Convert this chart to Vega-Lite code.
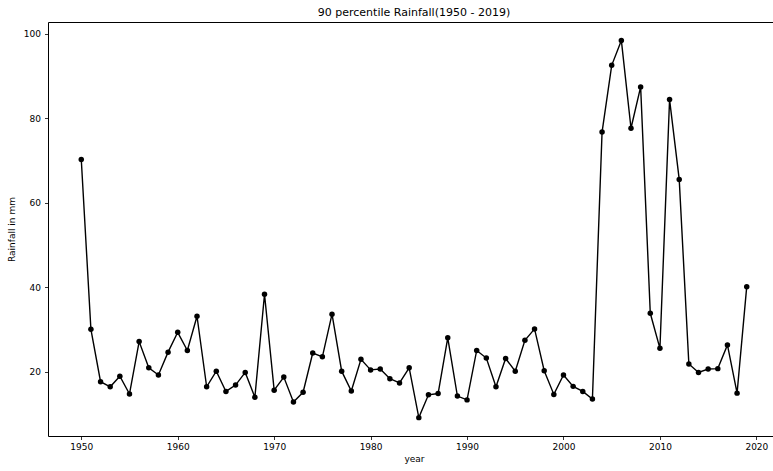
{
  "$schema": "https://vega.github.io/schema/vega-lite/v6.json",
  "width": 732,
  "height": 414,
  "autosize": {"type": "none"},
  "padding": {"left": 48, "top": 22, "right": 0, "bottom": 35},
  "background": "white",
  "config": {
    "font": "DejaVu Sans",
    "view": {"stroke": "black", "strokeWidth": 1},
    "axis": {
      "domain": false,
      "grid": false,
      "tickColor": "black",
      "tickSize": 3.5,
      "tickWidth": 0.8,
      "labelFont": "DejaVu Sans",
      "labelFontSize": 9,
      "labelColor": "black",
      "titleFont": "DejaVu Sans",
      "titleFontSize": 9,
      "titleFontWeight": "normal",
      "titleColor": "black"
    },
    "title": {"font": "DejaVu Sans", "fontSize": 11, "fontWeight": "normal", "color": "black"}
  },
  "title": {"text": "90 percentile Rainfall(1950 - 2019)", "anchor": "middle", "offset": 4},
  "data": {
    "values": [
      {"year": 1950, "rain": 70.2}, {"year": 1951, "rain": 30.0}, {"year": 1952, "rain": 17.6},
      {"year": 1953, "rain": 16.4}, {"year": 1954, "rain": 18.9}, {"year": 1955, "rain": 14.7},
      {"year": 1956, "rain": 27.1}, {"year": 1957, "rain": 20.9}, {"year": 1958, "rain": 19.2},
      {"year": 1959, "rain": 24.6}, {"year": 1960, "rain": 29.3}, {"year": 1961, "rain": 25.0},
      {"year": 1962, "rain": 33.1}, {"year": 1963, "rain": 16.4}, {"year": 1964, "rain": 20.1},
      {"year": 1965, "rain": 15.3}, {"year": 1966, "rain": 16.8}, {"year": 1967, "rain": 19.8},
      {"year": 1968, "rain": 13.9}, {"year": 1969, "rain": 38.3}, {"year": 1970, "rain": 15.6},
      {"year": 1971, "rain": 18.7}, {"year": 1972, "rain": 12.8}, {"year": 1973, "rain": 15.1},
      {"year": 1974, "rain": 24.4}, {"year": 1975, "rain": 23.5}, {"year": 1976, "rain": 33.6},
      {"year": 1977, "rain": 20.1}, {"year": 1978, "rain": 15.4}, {"year": 1979, "rain": 22.9},
      {"year": 1980, "rain": 20.4}, {"year": 1981, "rain": 20.6}, {"year": 1982, "rain": 18.3},
      {"year": 1983, "rain": 17.3}, {"year": 1984, "rain": 20.9}, {"year": 1985, "rain": 9.1},
      {"year": 1986, "rain": 14.5}, {"year": 1987, "rain": 14.8}, {"year": 1988, "rain": 28.0},
      {"year": 1989, "rain": 14.2}, {"year": 1990, "rain": 13.3}, {"year": 1991, "rain": 25.0},
      {"year": 1992, "rain": 23.2}, {"year": 1993, "rain": 16.4}, {"year": 1994, "rain": 23.1},
      {"year": 1995, "rain": 20.1}, {"year": 1996, "rain": 27.4}, {"year": 1997, "rain": 30.1},
      {"year": 1998, "rain": 20.2}, {"year": 1999, "rain": 14.6}, {"year": 2000, "rain": 19.2},
      {"year": 2001, "rain": 16.5}, {"year": 2002, "rain": 15.3}, {"year": 2003, "rain": 13.5},
      {"year": 2004, "rain": 76.7}, {"year": 2005, "rain": 92.5}, {"year": 2006, "rain": 98.4},
      {"year": 2007, "rain": 77.6}, {"year": 2008, "rain": 87.4}, {"year": 2009, "rain": 33.8},
      {"year": 2010, "rain": 25.5}, {"year": 2011, "rain": 84.4}, {"year": 2012, "rain": 65.5},
      {"year": 2013, "rain": 21.8}, {"year": 2014, "rain": 19.8}, {"year": 2015, "rain": 20.6},
      {"year": 2016, "rain": 20.7}, {"year": 2017, "rain": 26.3}, {"year": 2018, "rain": 14.9},
      {"year": 2019, "rain": 40.1}
    ]
  },
  "encoding": {
    "x": {
      "field": "year", "type": "quantitative",
      "scale": {"domain": [1946.55, 2022.45], "nice": false, "zero": false},
      "axis": {"values": [1950, 1960, 1970, 1980, 1990, 2000, 2010, 2020], "format": "d", "title": "year", "labelPadding": 3, "titlePadding": 3}
    },
    "y": {
      "field": "rain", "type": "quantitative",
      "scale": {"domain": [4.75, 102.76], "nice": false, "zero": false},
      "axis": {"values": [20, 40, 60, 80, 100], "title": "Rainfall in mm", "labelPadding": 4, "titlePadding": 7}
    }
  },
  "layer": [
    {"mark": {"type": "line", "color": "black", "strokeWidth": 1.4, "clip": true}},
    {"mark": {"type": "point", "filled": true, "color": "black", "opacity": 1, "size": 30, "clip": true}}
  ]
}
